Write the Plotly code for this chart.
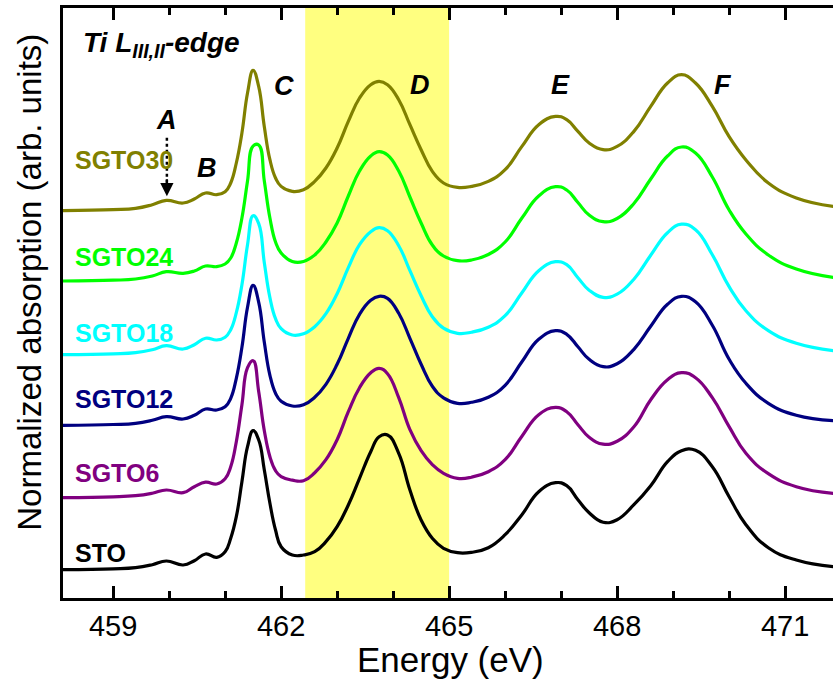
import plotly.graph_objects as go

# ---------------- data ----------------
energy = [458.1, 459.0, 459.4, 459.7, 459.95, 460.25, 460.45, 460.65, 460.85, 461.0,
          461.1, 461.2, 461.3, 461.4, 461.5, 461.6, 461.7, 461.8, 461.9, 462.0,
          462.2, 462.4, 462.6, 462.8, 463.0, 463.2, 463.4, 463.6, 463.75, 463.9,
          464.1, 464.3, 464.5, 464.7, 464.9, 465.15, 465.4, 465.7, 466.0, 466.3,
          466.6, 466.9, 467.1, 467.3, 467.5, 467.75, 468.0, 468.3, 468.6, 468.9,
          469.15, 469.4, 469.7, 470.0, 470.3, 470.7, 471.2, 471.86]

sgto30 = [0, 1, 2.3, 6, 10.3, 7.7, 11.7, 17.7, 16, 19, 27.7, 47.7, 77.7, 117.7, 140.3, 124, 84, 51, 32.7, 24.3,
          19.3, 21, 29.3, 42.7, 62.7, 89.3, 112.7, 126, 129.3, 126, 111, 86, 61, 39.3, 27.7, 23.3, 24.3, 29.3, 41, 64.3,
          86, 94.3, 91, 79.3, 67.7, 61, 64.3, 79.3, 104.3, 127.7, 136, 127.7, 104.3, 74, 50.7, 27.7, 12.7, 4.3]
sgto24 = [0, 0.8, 2, 5, 9.3, 7.7, 10, 15, 14.3, 17, 23, 38, 63, 100, 135, 136, 100, 63, 39, 28,
          19.5, 19.5, 26, 39, 58, 85, 110, 125, 129.3, 126, 110, 84, 58, 36, 25, 20.3, 21, 26.5, 39, 63,
          85, 94.3, 91, 78.5, 66, 59.3, 62.5, 77.5, 102, 125, 134, 128, 104, 71, 47, 26, 12, 3.7]
sgto18 = [0, 0.8, 2, 5, 9, 5.7, 10, 16.4, 14.7, 17.5, 25, 42, 70, 110, 139, 131, 92, 57, 36, 26,
          19.7, 21, 28, 41, 61, 87, 110, 123, 127, 124, 109, 84, 59, 38, 26.5, 21.4, 22.5, 27.5, 39, 62,
          84, 93, 90, 77, 64.5, 57.4, 60.5, 75.5, 99.5, 122, 130.5, 125, 100, 68, 44, 24, 11.4, 4]
sgto12 = [0, 0.8, 2, 5, 8.6, 6.3, 10, 16.3, 15.3, 18.5, 27, 47, 78, 118, 140, 123, 83, 50, 32, 24,
          19.3, 20.5, 28, 41, 61, 87, 111, 125, 129, 127, 112, 87, 61, 39, 27.5, 22, 23, 28, 40, 63.5,
          86, 94.6, 91, 78.5, 66, 58.6, 61.5, 76, 99, 121, 129, 123.5, 100, 66, 42, 22, 10, 4.6]
sgto6 = [0, 0.8, 2, 4.5, 7.7, 5, 11, 15.5, 13.7, 19, 31, 56, 93, 130, 137, 106, 67, 41, 27, 21,
         17.5, 17, 25, 38, 58, 86, 110, 125, 129.4, 124, 100, 68, 47, 33, 24.4, 19.4, 20.5, 26, 38, 61.5,
         83, 90.3, 86, 73, 60.5, 53.5, 56.5, 71, 98, 118, 125, 120, 100, 71, 44.4, 24, 11, 4.4]
sto = [0, 0.8, 2, 5, 8.7, 4.7, 9, 15.7, 12.4, 18, 31.4, 53, 88, 123, 139, 129.7, 99.7, 66.4, 39.7, 23,
       14.7, 14.7, 18, 28, 43, 64.7, 91.4, 118, 133, 134.7, 116.4, 79.7, 49.7, 31.4, 21.4, 17, 17.4, 22, 35, 55,
       78, 87, 84, 70, 57, 47.5, 50, 65, 84, 108, 119, 119.5, 103, 73, 45, 22, 9.7, 3]

sample_names = ["STO", "SGTO6", "SGTO12", "SGTO18", "SGTO24", "SGTO30"]
sample_data = [sto, sgto6, sgto12, sgto18, sgto24, sgto30]
sample_offsets = [0, 72, 144.4, 215, 288.7, 359]
sample_label_y = [17, 96.7, 170.7, 236.7, 313, 409.7]
colors = ["#000000", "#800080", "#000080", "#00FFFF", "#00FF00", "#808000"]

peak_names = ["A", "B", "C", "D", "E", "F"]
peak_label_x = [459.96, 460.67, 462.05, 464.48, 466.98, 469.89]
peak_label_y = [449.7, 401.4, 484.0, 484.7, 484.7, 484.7]

band = [462.43, 465.0]
x_range = [458.105, 471.855]
y_range = [-28.3, 561.7]
x_ticks = [459, 462, 465, 468, 471]

FONT = "Liberation Sans, Arial, sans-serif"

fig = go.Figure()

fig.add_vrect(x0=band[0], x1=band[1], fillcolor="#FFFF80", opacity=1,
              line_width=0, layer="below")

for name, vals, off, col in zip(sample_names, sample_data, sample_offsets, colors):
    fig.add_trace(go.Scatter(
        x=energy, y=[v + off for v in vals], mode="lines", name=name,
        line=dict(color=col, width=3.2, shape="spline", smoothing=1.3),
        showlegend=False, hoverinfo="skip"))

annotations = []
for name, ly, col in zip(sample_names, sample_label_y, colors):
    annotations.append(dict(x=458.28, y=ly, xref="x", yref="y", text="<b>%s</b>" % name,
                            showarrow=False, xanchor="left", yanchor="middle",
                            font=dict(family=FONT, size=25, color=col)))
for name, px_, py_ in zip(peak_names, peak_label_x, peak_label_y):
    annotations.append(dict(x=px_, y=py_, xref="x", yref="y", text="<b><i>%s</i></b>" % name,
                            showarrow=False, xanchor="center", yanchor="middle",
                            font=dict(family=FONT, size=27, color="black")))

annotations.append(dict(x=458.43, y=525, xref="x", yref="y",
                        text="<b><i>Ti L<sub>III,II</sub>-edge</i></b>",
                        showarrow=False, xanchor="left", yanchor="middle",
                        font=dict(family=FONT, size=28, color="black")))

# arrow for feature A
a_x = peak_label_x[0]
annotations.append(dict(x=a_x, y=373.5, xref="x", yref="y", ax=a_x, ay=392, axref="x", ayref="y",
                        text="", showarrow=True, arrowhead=2, arrowsize=1.2, arrowwidth=2.2,
                        arrowcolor="black"))
fig.add_shape(type="line", x0=a_x, x1=a_x, y0=432, y1=386, xref="x", yref="y",
              line=dict(color="black", width=2.5, dash="dot"))

annotations.append(dict(x=0.5026, y=-0.105, xref="paper", yref="paper", text="Energy (eV)",
                        showarrow=False, xanchor="center", yanchor="middle",
                        font=dict(family=FONT, size=35, color="black")))
annotations.append(dict(x=-0.0429, y=0.536, xref="paper", yref="paper",
                        text="Normalized absorption (arb. units)", textangle=-90,
                        showarrow=False, xanchor="center", yanchor="middle",
                        font=dict(family=FONT, size=33, color="black")))

fig.update_layout(
    width=833, height=688,
    margin=dict(l=63, r=0, t=8, b=90),
    paper_bgcolor="white", plot_bgcolor="white",
    annotations=annotations,
    xaxis=dict(range=x_range, tickmode="array", tickvals=x_ticks,
               ticktext=[str(t) for t in x_ticks],
               ticks="inside", ticklen=12, tickwidth=2.5, tickcolor="black",
               showline=True, linewidth=3, linecolor="black", mirror="ticks",
               showgrid=False, zeroline=False,
               tickfont=dict(family=FONT, size=29, color="black"),
               minor=dict(ticks="inside", ticklen=7, tickwidth=2.5, tickcolor="black",
                          tickmode="linear", tick0=459, dtick=1, showgrid=False)),
    yaxis=dict(range=y_range, showticklabels=False, ticks="",
               showline=True, linewidth=3, linecolor="black",
               showgrid=False, zeroline=False),
)

fig.write_html("out.html", config={"displayModeBar": False},
               post_script="document.body.style.margin='0';document.body.style.overflow='hidden';")
